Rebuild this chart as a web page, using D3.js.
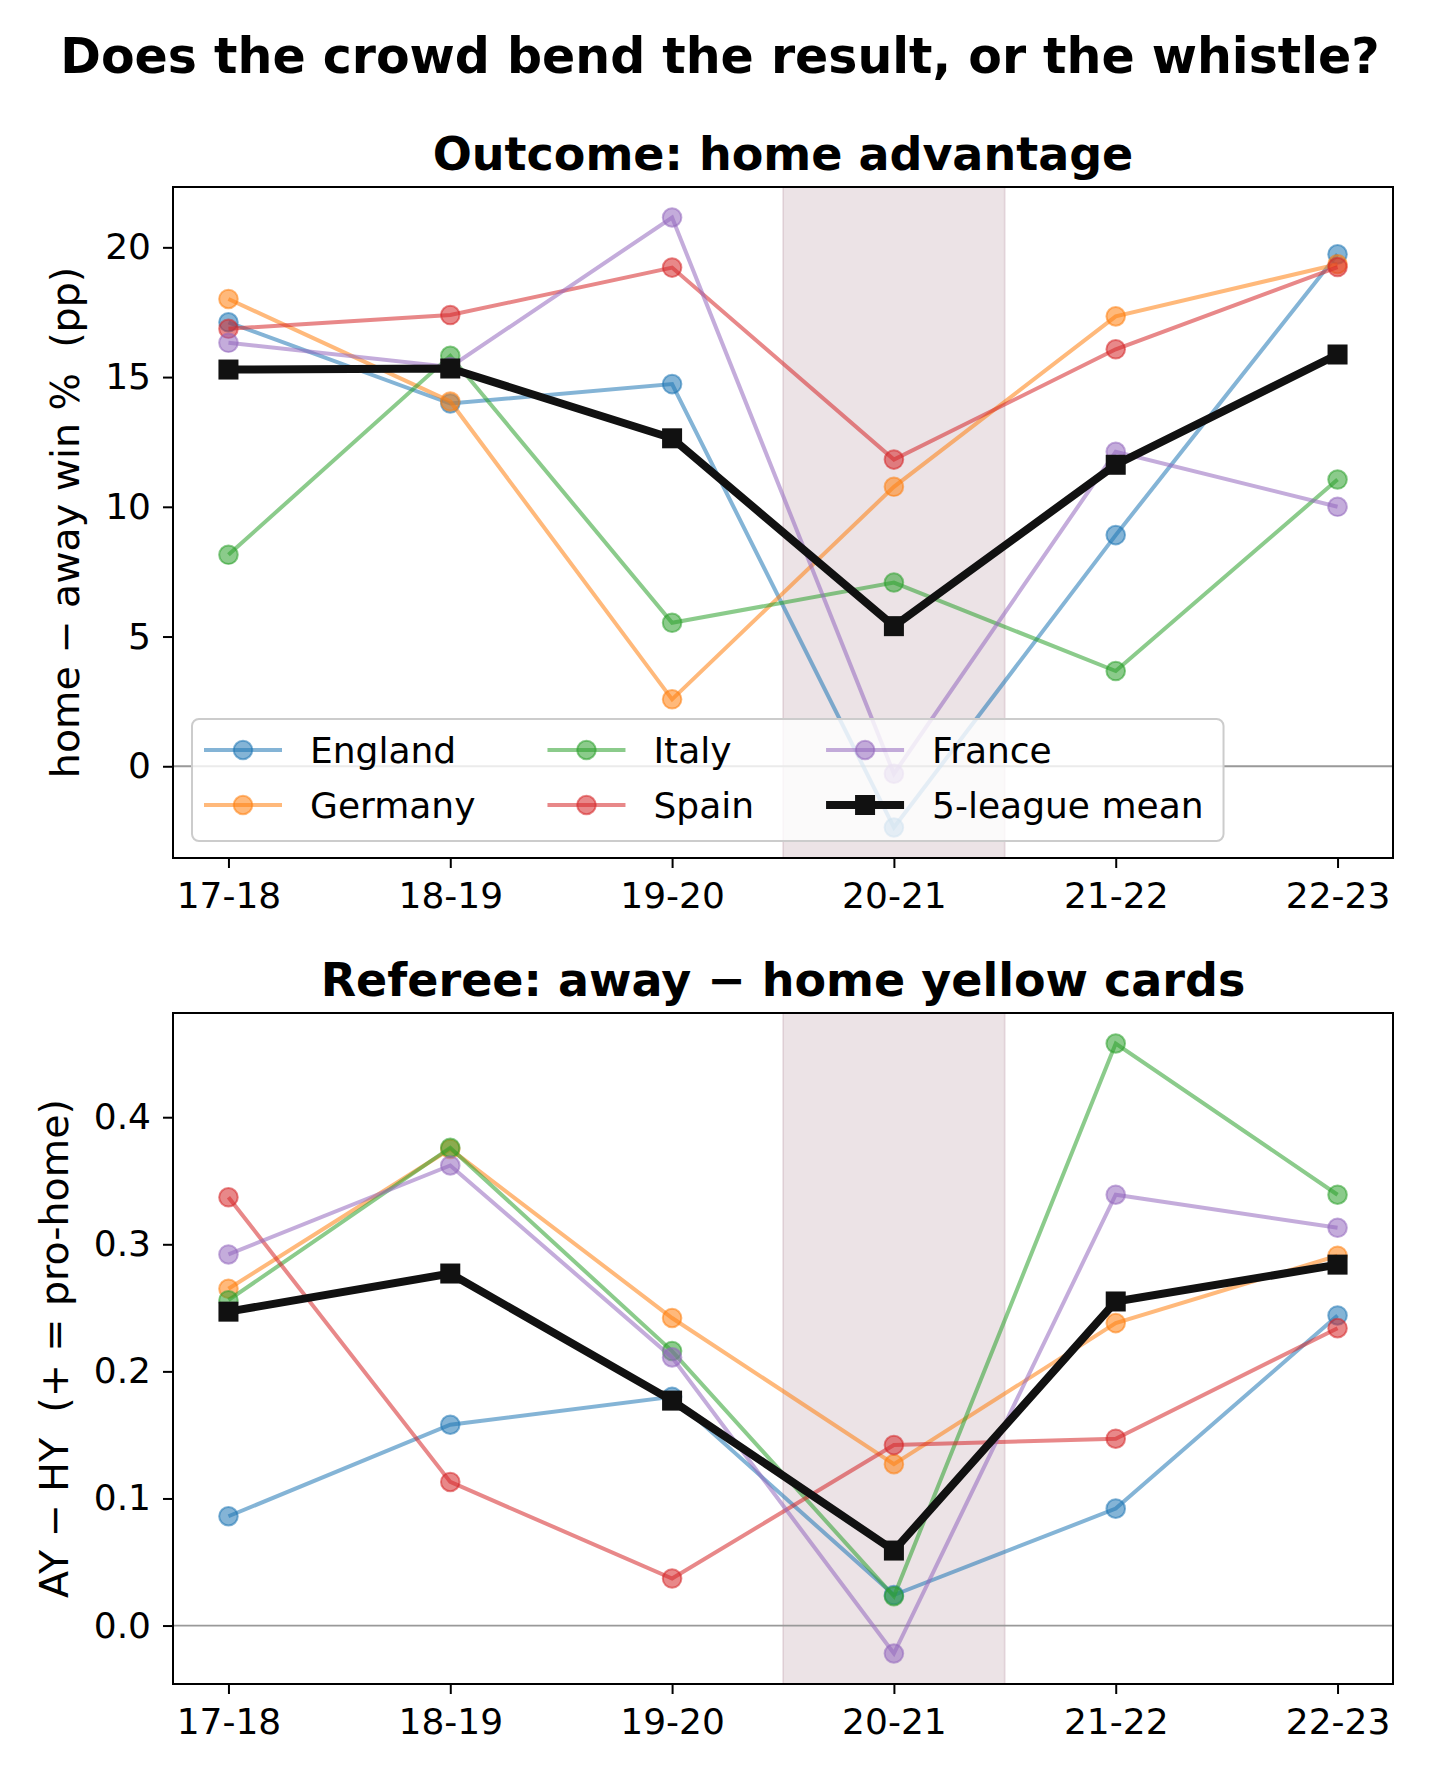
<!DOCTYPE html>
<html>
<head>
<meta charset="utf-8">
<script src="https://cdn.jsdelivr.net/npm/d3@7"></script>
<style>
  html, body { margin: 0; padding: 0; background: #fff; }
  svg { display: block; font-family: "DejaVu Sans", sans-serif; }
  svg text { white-space: pre; }
</style>
</head>
<body>
<svg id="chart" width="1440" height="1785"></svg>
<script>
// ---------- data ----------
const seasons = ["17-18", "18-19", "19-20", "20-21", "21-22", "22-23"];
const leagues = ["England", "Germany", "Italy", "Spain", "France"];

// Outcome: home − away win % (pp)
const outEngland = [17.11, 13.98, 14.73, -2.36, 8.91, 19.73];
const outGermany = [18.01, 14.06, 2.58, 10.77, 17.34, 19.35];
const outItaly   = [8.15, 15.82, 5.53, 7.08, 3.67, 11.05];
const outSpain   = [16.86, 17.39, 19.22, 11.82, 16.07, 19.24];
const outFrance  = [16.32, 15.39, 21.15, -0.29, 12.12, 10.00];
const outMean    = [15.29, 15.33, 12.64, 5.40, 11.62, 15.87];

// Referee: away − home yellow cards
const ycEngland = [0.086, 0.158, 0.180, 0.024, 0.092, 0.244];
const ycGermany = [0.265, 0.375, 0.242, 0.127, 0.238, 0.291];
const ycItaly   = [0.256, 0.376, 0.216, 0.023, 0.458, 0.339];
const ycSpain   = [0.337, 0.113, 0.037, 0.142, 0.147, 0.234];
const ycFrance  = [0.292, 0.362, 0.211, -0.022, 0.339, 0.313];
const ycMean    = [0.247, 0.277, 0.177, 0.059, 0.255, 0.284];

const outTicks = [0, 5, 10, 15, 20];
const ycTicks = [0.0, 0.1, 0.2, 0.3, 0.4];

const covidSeason = "20-21";
const leagueColors = ["#1f77b4", "#ff7f0e", "#2ca02c", "#d62728", "#9467bd"];

// ---------- layout ----------
const svg = d3.select("#chart");
const W = 1440;
const FONT = "DejaVu Sans";
const axL = 173, axR = 1393;

svg.append("text")
  .attr("x", W / 2).attr("y", 73)
  .attr("text-anchor", "middle")
  .attr("font-size", 49).attr("font-weight", "bold")
  .text("Does the crowd bend the result, or the whistle?");

function panel(cfg) {
  const g = svg.append("g");
  const x = d3.scaleLinear().domain([-0.25, seasons.length - 1 + 0.25]).range([axL, axR]);
  const all = cfg.series.flat().concat(cfg.mean);
  const lo = d3.min(all), hi = d3.max(all), pad = 0.05 * (hi - lo);
  const y = d3.scaleLinear().domain([lo - pad, hi + pad]).range([cfg.bottom, cfg.top]);

  // shaded covid season
  const ci = seasons.indexOf(covidSeason);
  g.append("rect")
    .attr("x", x(ci - 0.5)).attr("y", cfg.top)
    .attr("width", x(ci + 0.5) - x(ci - 0.5)).attr("height", cfg.bottom - cfg.top)
    .attr("fill", "rgb(120,60,80)").attr("fill-opacity", 0.14)
    .attr("stroke", "rgb(120,60,80)").attr("stroke-opacity", 0.12).attr("stroke-width", 2);

  // zero line
  g.append("line")
    .attr("x1", axL).attr("x2", axR).attr("y1", y(0)).attr("y2", y(0))
    .attr("stroke", "#999").attr("stroke-width", 1.8);

  const line = d3.line().x((d, i) => x(i)).y(d => y(d));

  cfg.series.forEach((vals, k) => {
    const c = leagueColors[k];
    const sg = g.append("g");
    sg.append("path").datum(vals)
      .attr("d", line).attr("fill", "none")
      .attr("stroke", c).attr("stroke-opacity", 0.55).attr("stroke-width", 4);
    sg.selectAll("circle").data(vals).enter().append("circle")
      .attr("cx", (d, i) => x(i)).attr("cy", d => y(d)).attr("r", 9.3)
      .attr("fill", c).attr("fill-opacity", 0.55)
      .attr("stroke", c).attr("stroke-opacity", 0.55).attr("stroke-width", 2);
  });

  g.append("path").datum(cfg.mean)
    .attr("d", line).attr("fill", "none")
    .attr("stroke", "#111").attr("stroke-width", 8).attr("stroke-linejoin", "miter");
  g.selectAll("rect.mean").data(cfg.mean).enter().append("rect")
    .attr("class", "mean")
    .attr("x", (d, i) => x(i) - 10).attr("y", d => y(d) - 10)
    .attr("width", 20).attr("height", 20).attr("fill", "#111");

  // axes
  const xa = g.append("g").attr("transform", `translate(0,${cfg.bottom})`)
    .call(d3.axisBottom(x).tickValues(d3.range(seasons.length)).tickFormat(i => seasons[i])
      .tickSize(10).tickPadding(14));
  const ya = g.append("g").attr("transform", `translate(${axL},0)`)
    .call(d3.axisLeft(y).tickValues(cfg.ticks).tickFormat(cfg.fmt).tickSize(10).tickPadding(12));
  [xa, ya].forEach(a => {
    a.select(".domain").remove();
    a.selectAll(".tick line").attr("stroke", "#000").attr("stroke-width", 2);
    a.selectAll(".tick text").attr("font-size", 36).attr("font-family", FONT).attr("fill", "#000");
  });
  xa.selectAll(".tick text").attr("dy", "0.71em");

  // frame
  g.append("rect").attr("x", axL).attr("y", cfg.top)
    .attr("width", axR - axL).attr("height", cfg.bottom - cfg.top)
    .attr("fill", "none").attr("stroke", "#000").attr("stroke-width", 2);

  // title
  g.append("text").attr("x", (axL + axR) / 2).attr("y", cfg.top - 17)
    .attr("text-anchor", "middle").attr("font-size", 46).attr("font-weight", "bold")
    .text(cfg.title);
  // y label
  g.append("text")
    .attr("transform", `translate(${cfg.ylabX},${(cfg.top + cfg.bottom) / 2}) rotate(-90)`)
    .attr("text-anchor", "middle").attr("font-size", 39.5)
    .text(cfg.ylabel);

  return { g, x, y };
}

const topPanel = panel({
  top: 187, bottom: 858,
  series: [outEngland, outGermany, outItaly, outSpain, outFrance],
  mean: outMean, ticks: outTicks, fmt: d3.format("d"),
  title: "Outcome: home advantage",
  ylabel: "home \u2212 away win %  (pp)", ylabX: 79
});

panel({
  top: 1013, bottom: 1684,
  series: [ycEngland, ycGermany, ycItaly, ycSpain, ycFrance],
  mean: ycMean, ticks: ycTicks, fmt: d3.format(".1f"),
  title: "Referee: away \u2212 home yellow cards",
  ylabel: "AY \u2212 HY  (+ = pro-home)", ylabX: 68
});

// ---------- legend (top panel) ----------
const legItems = leagues.map((n, k) => ({ name: n, color: leagueColors[k], mean: false }))
  .concat([{ name: "5-league mean", color: "#111", mean: true }]);
const lg = topPanel.g.append("g");
const box = lg.append("rect");
const rowY = [750, 805];
let cx = 204;
const textOff = 106, lineLen = 78, colGap = 72;
const nCols = 3;
let lastEnd = 0;
for (let c = 0; c < nCols; c++) {
  let maxW = 0;
  for (let r = 0; r < 2; r++) {
    const it = legItems[c * 2 + r];
    const ig = lg.append("g");
    if (it.mean) {
      ig.append("line").attr("x1", cx).attr("x2", cx + lineLen)
        .attr("y1", rowY[r]).attr("y2", rowY[r]).attr("stroke", "#111").attr("stroke-width", 8);
      ig.append("rect").attr("x", cx + lineLen / 2 - 10).attr("y", rowY[r] - 10)
        .attr("width", 20).attr("height", 20).attr("fill", "#111");
    } else {
      ig.append("line").attr("x1", cx).attr("x2", cx + lineLen)
        .attr("y1", rowY[r]).attr("y2", rowY[r])
        .attr("stroke", it.color).attr("stroke-opacity", 0.55).attr("stroke-width", 4);
      ig.append("circle").attr("cx", cx + lineLen / 2).attr("cy", rowY[r]).attr("r", 9.3)
        .attr("fill", it.color).attr("fill-opacity", 0.55)
        .attr("stroke", it.color).attr("stroke-opacity", 0.55).attr("stroke-width", 2);
    }
    const t = ig.append("text").attr("x", cx + textOff).attr("y", rowY[r]).attr("dy", "0.36em")
      .attr("font-size", 36).text(it.name);
    maxW = Math.max(maxW, t.node().getComputedTextLength());
  }
  lastEnd = cx + textOff + maxW;
  cx = lastEnd + colGap;
}
box.attr("x", 192).attr("y", 719).attr("width", lastEnd + 20 - 192).attr("height", 122)
  .attr("rx", 7).attr("fill", "#fff").attr("fill-opacity", 0.8)
  .attr("stroke", "#ccc").attr("stroke-width", 2);
</script>
</body>
</html>
